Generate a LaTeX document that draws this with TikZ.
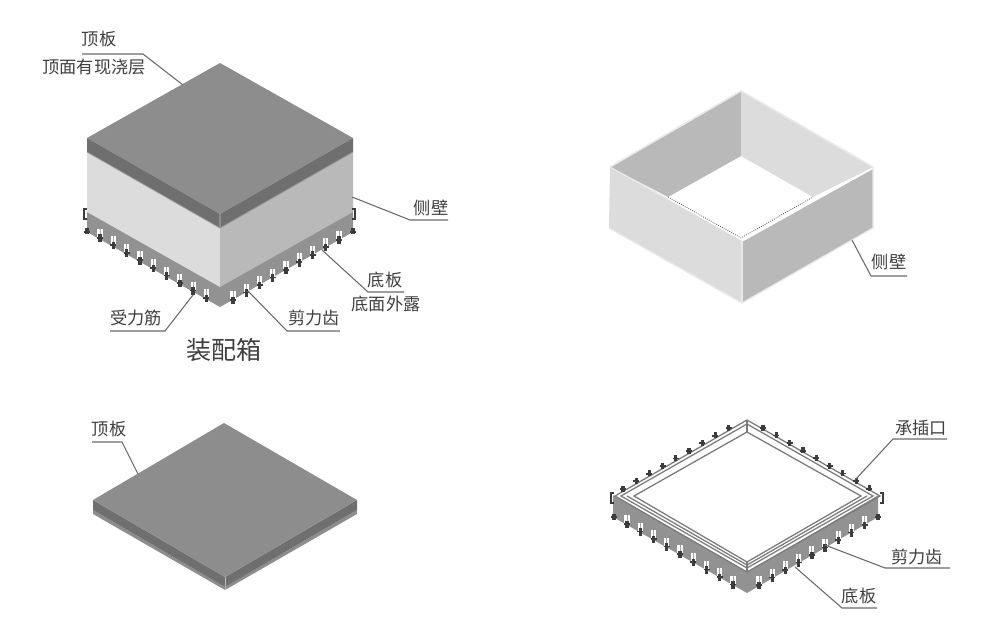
\documentclass[tikz,border=0pt]{standalone}
\usepackage{fontspec}
\setmainfont{Noto Sans CJK SC}
\definecolor{topg}{HTML}{8D8D8D}
\definecolor{sideg}{HTML}{6F6F6F}
\definecolor{plateg}{HTML}{929292}
\definecolor{wallL}{HTML}{DCDCDC}
\definecolor{wallR}{HTML}{B9B9B9}
\definecolor{rimg}{HTML}{E9E9E9}
\definecolor{barg}{HTML}{3C3C3C}
\definecolor{lineg}{HTML}{6A6A6A}
\definecolor{ringg}{HTML}{7A7A7A}
\definecolor{textg}{HTML}{3F3F3F}
\newcommand{\tooth}[2]{%
  \fill[white] (#1-2.6,#2) rectangle (#1+2.6,#2+8);
  \fill[lineg!60] (#1-0.4,#2) rectangle (#1+0.4,#2+7);
  \fill[barg] (#1-1.7,#2+5.5) rectangle (#1+1.7,#2+13);
  \fill[barg] (#1-3,#2+8) rectangle (#1+3,#2+9.6);}
\newcommand{\backbar}[2]{%
  \fill[barg] (#1-1.6,#2-3.5) rectangle (#1+1.6,#2+2.5);
  \fill[barg] (#1-3,#2-1) rectangle (#1+3,#2+0.8);}
\newcommand{\hookL}[2]{%
  \draw[barg,line width=1.7pt] (#1+3,#2-7) -- (#1,#2-7) -- (#1,#2+3) -- (#1+3,#2+3);}
\newcommand{\hookR}[2]{%
  \draw[barg,line width=1.7pt] (#1-3,#2-7) -- (#1,#2-7) -- (#1,#2+3) -- (#1-3,#2+3);}
\tikzset{
  lab/.style={font=\fontsize{12.9pt}{14pt}\selectfont,text=textg,inner sep=0pt},
  bigl/.style={font=\fontsize{18.8pt}{20pt}\selectfont,text=textg,inner sep=0pt},
  leader/.style={draw=lineg,line width=0.8pt},
  ring/.style={draw=ringg,line width=0.95pt},
}
\begin{document}
\begin{tikzpicture}[x=0.75pt,y=-0.75pt]
\useasboundingbox (0,0) rectangle (1000,631);
\fill[white] (0,0) rectangle (1000,631);

%% ---------- assembled box ----------
\fill[plateg] (87,208) -- (220,283) -- (353,208) -- (353,232) -- (220,307) -- (87,232) -- cycle;
\fill[wallL] (87,150) -- (220,226) -- (220,287) -- (87,212) -- cycle;
\fill[wallR] (353,150) -- (220,226) -- (220,287) -- (353,212) -- cycle;
\fill[topg] (220,63) -- (353,138) -- (220,214) -- (87,138) -- cycle;
\fill[sideg] (87,138) -- (220,214) -- (353,138) -- (353,152) -- (220,228) -- (87,152) -- cycle;
\draw[topg,line width=0.8pt] (220,214) -- (220,228);
\draw[topg!90,line width=0.6pt] (87,152) -- (220,228) -- (353,152);
\foreach \i in {0,...,8}{
  \pgfmathsetmacro{\xa}{100+13.3*\i}\pgfmathsetmacro{\ya}{229+7.5*\i}
  \tooth{\xa}{\ya}
  \pgfmathsetmacro{\xb}{233+13.25*\i}\pgfmathsetmacro{\yb}{291-7.5*\i}
  \tooth{\xb}{\yb}
}
\hookL{84}{216}\hookR{355}{216}
\backbar{87}{232}\backbar{353}{232}

%% ---------- side wall ----------
\fill[wallL] (610,167) -- (742,241) -- (742,303) -- (609,228) -- cycle;
\fill[wallR] (873,167) -- (742,241) -- (742,303) -- (873,228) -- cycle;
\fill[wallR] (741,91) -- (741,156) -- (668,197) -- (610,167) -- cycle;
\fill[wallL] (741,91) -- (741,156) -- (813,197) -- (873,167) -- cycle;
\draw[rimg,line width=1.2pt,line join=round] (741,91) -- (873,167);
\draw[rimg,line width=1.2pt,line join=round] (741,91) -- (610,167);
\draw[white,line width=1.2pt] (873,168) -- (742,241);
\draw[rimg,line width=0.8pt] (610,167) -- (668,199);
\draw[black!70,line width=0.6pt,densely dotted] (668,197) -- (741,238) -- (813,197);
\draw[rimg,line width=1pt] (742,241) -- (742,303);
\draw[rimg,line width=1pt] (609,228) -- (742,303) -- (873,228) -- (873,167);

%% ---------- top slab ----------
\fill[topg] (93,510) -- (225,587) -- (357,510) -- (357,514) -- (225,590) -- (93,514) -- cycle;
\fill[sideg] (93,500) -- (225,577) -- (357,500) -- (357,510) -- (225,587) -- (93,510) -- cycle;
\fill[topg] (224,423) -- (357,500) -- (225,577) -- (93,500) -- cycle;
\draw[topg!60,line width=0.6pt] (225,577) -- (225,590);

%% ---------- bottom plate ----------
\fill[plateg] (613,495) -- (747,572) -- (878,495) -- (878,517) -- (747,593) -- (613,517) -- cycle;
\fill[white] (747,420) -- (878,495) -- (747,572) -- (613,495) -- cycle;
\draw[ring] (747,420) -- (880,496) -- (747,572) -- (615,496) -- cycle;
\draw[ring] (747,424) -- (873,496) -- (747,568) -- (621,496) -- cycle;
\draw[ring] (747,432) -- (861,496) -- (747,562) -- (634,496) -- cycle;
\draw[ring] (627,496) -- (747,565) -- (867,496);
\draw[ring] (747,420) -- (747,432);
\draw[ring] (747,562) -- (747,572);
\foreach \i in {0,...,8}{
  \pgfmathsetmacro{\xa}{627+13.25*\i}\pgfmathsetmacro{\ya}{515+7.6*\i}
  \tooth{\xa}{\ya}
  \pgfmathsetmacro{\xb}{759+13.2*\i}\pgfmathsetmacro{\yb}{576-7.5*\i}
  \tooth{\xb}{\yb}
  \pgfmathsetmacro{\xc}{623+13.2*\i}\pgfmathsetmacro{\yc}{489-7.6*\i}
  \backbar{\xc}{\yc}
  \pgfmathsetmacro{\xd}{763+13.3*\i}\pgfmathsetmacro{\yd}{428+7.6*\i}
  \backbar{\xd}{\yd}
}
\hookL{611}{500}\hookR{883}{500}
\backbar{614}{517}\backbar{878}{517}

%% ---------- labels ----------
\node[lab] (a1) at (99,39) {顶板};
\node[lab] (a2) at (94,67) {顶面有现浇层};
\coordinate (a3) at (82,54); \coordinate (a4) at (143,54); \coordinate (a5) at (183,85);
\draw[leader] (a3) -- (a4) -- (a5);

\node[lab] (b1) at (431,208) {侧壁};
\coordinate (b2) at (352,197); \coordinate (b3) at (410,220); \coordinate (b4) at (448,220);
\draw[leader] (b2) -- (b3) -- (b4);

\node[lab] (c1) at (385,280) {底板};
\node[lab] (c2) at (386,304) {底面外露};
\coordinate (c3) at (322,250); \coordinate (c4) at (368,292); \coordinate (c5) at (404,292);
\draw[leader] (c3) -- (c4) -- (c5);

\node[lab] (d1) at (314,318) {剪力齿};
\coordinate (d2) at (248,291); \coordinate (d3) at (287,331); \coordinate (d4) at (340,331);
\draw[leader] (d2) -- (d3) -- (d4);

\node[lab] (e1) at (136,318) {受力筋};
\coordinate (e2) at (193,295); \coordinate (e3) at (165,331); \coordinate (e4) at (110,331);
\draw[leader] (e2) -- (e3) -- (e4);

\node[bigl] (f1) at (224,350) {装配箱};

\node[lab] (g1) at (889,262) {侧壁};
\coordinate (g2) at (852,240); \coordinate (g3) at (871,276); \coordinate (g4) at (907,276);
\draw[leader] (g2) -- (g3) -- (g4);

\node[lab] (h1) at (109,429) {顶板};
\coordinate (h2) at (92,442); \coordinate (h3) at (122,442); \coordinate (h4) at (138,474);
\draw[leader] (h2) -- (h3) -- (h4);

\node[lab] (i1) at (921,428) {承插口};
\coordinate (i2) at (947,439); \coordinate (i3) at (893,439); \coordinate (i4) at (855,480);
\draw[leader] (i2) -- (i3) -- (i4);

\node[lab] (j1) at (917,557) {剪力齿};
\coordinate (j2) at (825,545); \coordinate (j3) at (885,568); \coordinate (j4) at (950,568);
\draw[leader] (j2) -- (j3) -- (j4);

\node[lab] (k1) at (859,596) {底板};
\coordinate (k2) at (795,567); \coordinate (k3) at (842,608); \coordinate (k4) at (877,608);
\draw[leader] (k2) -- (k3) -- (k4);
\end{tikzpicture}
\end{document}
